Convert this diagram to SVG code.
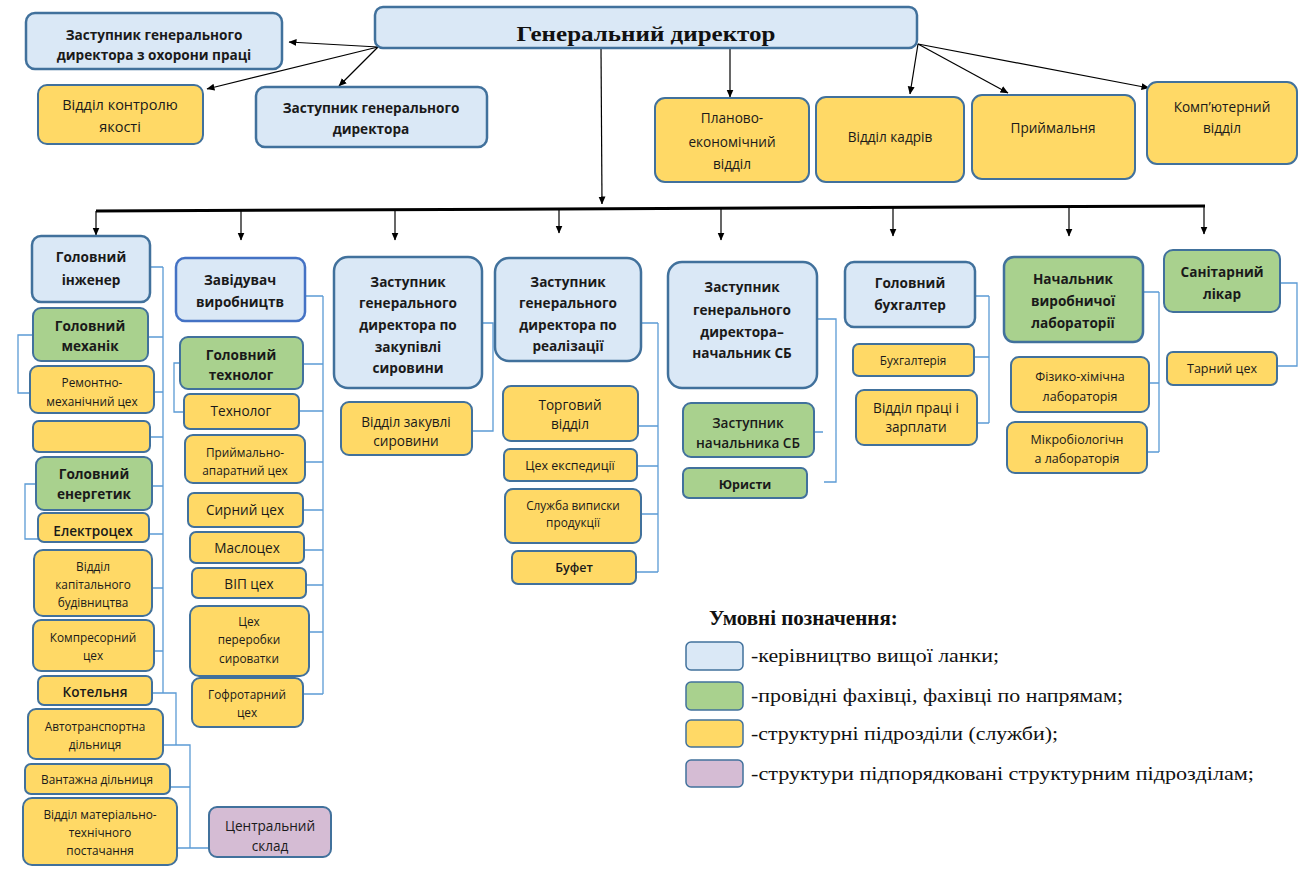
<svg xmlns="http://www.w3.org/2000/svg" width="1304" height="878" viewBox="0 0 1304 878">
<defs>
<marker id="ah" markerWidth="8" markerHeight="8" refX="7.5" refY="4" orient="auto" markerUnits="userSpaceOnUse"><path d="M0,0.5 L8,4 L0,7.5 Z" fill="#000"/></marker>
<style>
.b{fill:#dae8f6;stroke:#41719c;stroke-width:2.5}
.g{fill:#a9d18e;stroke:#41719c;stroke-width:2}
.y{fill:#ffd966;stroke:#41719c;stroke-width:2}
.p{fill:#d5bcd4;stroke:#41719c;stroke-width:2}
.t{font-family:'Open Sans','Noto Sans',sans-serif;font-size:13.6px;text-anchor:middle;fill:#1a1a1a}
.tb{font-weight:700}
.tm{font-weight:600}
.s11{font-size:11.8px}
.s12{font-size:12.5px}
.c{stroke:#5b9bd5;stroke-width:1.3;fill:none}
.a{stroke:#000;stroke-width:1.2;fill:none;marker-end:url(#ah)}
.lg{font-family:'Liberation Serif','Times New Roman',serif;font-size:19px;fill:#111}
</style>
</defs>
<rect width="1304" height="878" fill="#fff"/>

<g id="connectors">
<path class="a" d="M378,47 L289,42"/>
<path class="a" d="M378,47 L207,89"/>
<path class="a" d="M378,47 L339,86"/>
<path class="a" d="M730,48 L730,97"/>
<path class="a" d="M601,48 L602,204"/>
<path class="a" d="M918,44 L910,94"/>
<path class="a" d="M918,44 L1008,93"/>
<path class="a" d="M918,44 L1149,88"/>
<path d="M96,211 L1205,206" stroke="#000" stroke-width="3" fill="none"/>
<path class="a" d="M96,211 L96,235"/>
<path class="a" d="M241,210 L241,240"/>
<path class="a" d="M395,209 L395,240"/>
<path class="a" d="M559,209 L559,233"/>
<path class="a" d="M721,208 L721,240"/>
<path class="a" d="M893,207 L893,236"/>
<path class="a" d="M1069,207 L1069,236"/>
<path class="a" d="M1204,206 L1204,234"/>
<!-- column 1 -->
<path class="c" d="M163,267 V693 M150,267 H163 M148,337 H163 M154,392 H163 M150,437 H163 M152,486 H163 M149,534 H163 M152,588 H163 M154,651 H163 M152,693 H176 V745 M163,745 H190 V848 M170,787 H190 M177,848 H209"/>
<path class="c" d="M33,335 H18 V393 H30 M36,484 H25 V539 H38"/>
<!-- column 2 -->
<path class="c" d="M323,296 V694 M305,296 H323 M303,364 H323 M299,411 H323 M305,462 H323 M303,510 H323 M304,550 H323 M306,585 H323 M309,632 H323 M303,694 H323"/>
<path class="c" d="M180,363 H174 V412 H184"/>
<!-- column 3 -->
<path class="c" d="M482,323 H493 V431 H472"/>
<!-- column 4 -->
<path class="c" d="M658,323 V572 M641,323 H658 M638,426 H658 M637,466 H658 M641,514 H658 M636,572 H658"/>
<!-- column 5 -->
<path class="c" d="M817,319 H836 V482 H824 M814,432 H823"/>
<!-- column 6 -->
<path class="c" d="M989,296 V423 M975,296 H989 M974,357 H989 M977,423 H989"/>
<!-- column 7 -->
<path class="c" d="M1159,292 V452 M1143,292 H1159 M1149,383 H1159 M1147,452 H1159"/>
<!-- column 8 -->
<path class="c" d="M1280,283 H1297 V366 H1277"/>
</g>

<g id="gd"><rect class="b" x="375" y="7" width="542" height="41" rx="8"/><text x="646" y="41" font-family="'Liberation Serif','Times New Roman',serif" font-weight="700" font-size="20" text-anchor="middle" textLength="259" lengthAdjust="spacingAndGlyphs" fill="#111">Генеральний директор</text></g>
<g id="ohor"><rect class="b" x="26" y="13" width="256" height="56" rx="9"/><text class="t tb"><tspan x="154" y="40">Заступник генерального</tspan><tspan x="154" y="60">директора з охорони праці</tspan></text></g>
<g id="kontrol"><rect class="y" x="38" y="85" width="165" height="59" rx="9"/><text class="t" style="font-size:14.5px"><tspan x="120" y="110">Відділ контролю</tspan><tspan x="120" y="132">якості</tspan></text></g>
<g id="zgd"><rect class="b" x="256" y="87" width="231" height="60" rx="9"/><text class="t tb"><tspan x="371" y="113">Заступник генерального</tspan><tspan x="371" y="134">директора</tspan></text></g>
<g id="plan"><rect class="y" x="655" y="98" width="154" height="84" rx="10"/><text class="t"><tspan x="732" y="123">Планово-</tspan><tspan x="732" y="147">економічний</tspan><tspan x="732" y="169">відділ</tspan></text></g>
<g id="kadry"><rect class="y" x="816" y="97" width="148" height="85" rx="10"/><text class="t" x="890" y="142">Відділ кадрів</text></g>
<g id="pryim"><rect class="y" x="972" y="95" width="163" height="84" rx="10"/><text class="t" x="1053" y="133">Приймальня</text></g>
<g id="komp"><rect class="y" x="1147" y="82" width="150" height="82" rx="10"/><text class="t"><tspan x="1222" y="112">Комп’ютерний</tspan><tspan x="1222" y="133">відділ</tspan></text></g>

<!-- column 1 -->
<g id="gi"><rect class="b" x="32" y="236" width="118" height="66" rx="9"/><text class="t tb"><tspan x="91" y="262">Головний</tspan><tspan x="91" y="285">інженер</tspan></text></g>
<g id="gm"><rect class="g" x="33" y="308" width="115" height="53" rx="8"/><text class="t tb"><tspan x="90" y="331">Головний</tspan><tspan x="90" y="351">механік</tspan></text></g>
<g id="rm"><rect class="y" x="30" y="366" width="124" height="47" rx="8"/><text class="t s11"><tspan x="92" y="387">Ремонтно-</tspan><tspan x="92" y="406">механічний цех</tspan></text></g>
<g id="empty"><rect class="y" x="33" y="421" width="117" height="31" rx="6"/></g>
<g id="ge"><rect class="g" x="36" y="457" width="116" height="53" rx="8"/><text class="t tb"><tspan x="94" y="479">Головний</tspan><tspan x="94" y="499">енергетик</tspan></text></g>
<g id="el"><rect class="y" x="38" y="513" width="111" height="29" rx="6"/><text class="t tm" x="93" y="536">Електроцех</text></g>
<g id="kb"><rect class="y" x="34" y="550" width="118" height="66" rx="9"/><text class="t s11"><tspan x="93" y="571">Відділ</tspan><tspan x="93" y="589">капітального</tspan><tspan x="93" y="607">будівництва</tspan></text></g>
<g id="ks"><rect class="y" x="33" y="620" width="121" height="51" rx="8"/><text class="t s11"><tspan x="93" y="642">Компресорний</tspan><tspan x="93" y="660">цех</tspan></text></g>
<g id="kt"><rect class="y" x="38" y="676" width="114" height="29" rx="6"/><text class="t tm" x="95" y="697">Котельня</text></g>
<g id="at"><rect class="y" x="28" y="709" width="135" height="50" rx="8"/><text class="t s11"><tspan x="95" y="731">Автотранспортна</tspan><tspan x="95" y="749">дільниця</tspan></text></g>
<g id="vd"><rect class="y" x="25" y="764" width="145" height="30" rx="6"/><text class="t s11" x="97" y="784">Вантажна дільниця</text></g>
<g id="mt"><rect class="y" x="23" y="798" width="154" height="67" rx="9"/><text class="t s11"><tspan x="100" y="819">Відділ матеріально-</tspan><tspan x="100" y="837">технічного</tspan><tspan x="100" y="855">постачання</tspan></text></g>
<g id="cs"><rect class="p" x="209" y="807" width="122" height="50" rx="8"/><text class="t"><tspan x="270" y="831">Центральний</tspan><tspan x="270" y="851">склад</tspan></text></g>

<!-- column 2 -->
<g id="zv"><rect class="b" style="stroke:#4472c4" x="176" y="258" width="129" height="63" rx="9"/><text class="t tb"><tspan x="240" y="285">Завідувач</tspan><tspan x="240" y="307">виробництв</tspan></text></g>
<g id="gt"><rect class="g" x="180" y="337" width="123" height="52" rx="8"/><text class="t tb"><tspan x="241" y="360">Головний</tspan><tspan x="241" y="380">технолог</tspan></text></g>
<g id="tl"><rect class="y" x="184" y="394" width="115" height="35" rx="6"/><text class="t" x="241" y="416">Технолог</text></g>
<g id="pa"><rect class="y" x="185" y="435" width="120" height="48" rx="8"/><text class="t s11"><tspan x="245" y="457">Приймально-</tspan><tspan x="245" y="475">апаратний цех</tspan></text></g>
<g id="sc"><rect class="y" x="188" y="493" width="115" height="34" rx="6"/><text class="t" x="245" y="515">Сирний цех</text></g>
<g id="ms"><rect class="y" x="190" y="532" width="114" height="31" rx="6"/><text class="t" x="247" y="553">Маслоцех</text></g>
<g id="vip"><rect class="y" x="192" y="568" width="114" height="30" rx="6"/><text class="t" x="249" y="589">ВІП цех</text></g>
<g id="ps"><rect class="y" x="190" y="606" width="119" height="70" rx="9"/><text class="t s11"><tspan x="249" y="626">Цех</tspan><tspan x="249" y="644">переробки</tspan><tspan x="249" y="663">сироватки</tspan></text></g>
<g id="gf"><rect class="y" x="192" y="678" width="111" height="49" rx="8"/><text class="t s11"><tspan x="247" y="699">Гофротарний</tspan><tspan x="247" y="717">цех</tspan></text></g>

<!-- column 3 -->
<g id="zz"><rect class="b" x="334" y="257" width="148" height="131" rx="14"/><text class="t tb"><tspan x="408" y="287">Заступник</tspan><tspan x="408" y="308">генерального</tspan><tspan x="408" y="330">директора по</tspan><tspan x="408" y="352">закупівлі</tspan><tspan x="408" y="373">сировини</tspan></text></g>
<g id="vz"><rect class="y" x="341" y="402" width="131" height="53" rx="8"/><text class="t"><tspan x="406" y="427">Відділ закувлі</tspan><tspan x="406" y="446">сировини</tspan></text></g>

<!-- column 4 -->
<g id="zr"><rect class="b" x="495" y="258" width="146" height="103" rx="14"/><text class="t tb"><tspan x="568" y="287">Заступник</tspan><tspan x="568" y="308">генерального</tspan><tspan x="568" y="330">директора по</tspan><tspan x="568" y="351">реалізації</tspan></text></g>
<g id="tv"><rect class="y" x="503" y="386" width="135" height="55" rx="8"/><text class="t"><tspan x="570" y="410">Торговий</tspan><tspan x="570" y="429">відділ</tspan></text></g>
<g id="ce"><rect class="y" x="504" y="449" width="133" height="32" rx="6"/><text class="t s12" x="570" y="470">Цех експедиції</text></g>
<g id="sv"><rect class="y" x="505" y="489" width="136" height="54" rx="8"/><text class="t s11"><tspan x="573" y="510">Служба виписки</tspan><tspan x="573" y="527">продукції</tspan></text></g>
<g id="bf"><rect class="y" x="512" y="551" width="124" height="33" rx="6"/><text class="t s12 tm" x="574" y="572">Буфет</text></g>

<!-- column 5 -->
<g id="zsb"><rect class="b" x="668" y="262" width="149" height="126" rx="14"/><text class="t tb"><tspan x="742" y="292">Заступник</tspan><tspan x="742" y="315">генерального</tspan><tspan x="742" y="337">директора–</tspan><tspan x="742" y="358">начальник СБ</tspan></text></g>
<g id="zns"><rect class="g" x="683" y="403" width="131" height="54" rx="8"/><text class="t tm"><tspan x="748" y="428">Заступник</tspan><tspan x="748" y="448">начальника СБ</tspan></text></g>
<g id="yur"><rect class="g" x="683" y="468" width="124" height="30" rx="6"/><text class="t s12 tb" x="745" y="489">Юристи</text></g>

<!-- column 6 -->
<g id="gb"><rect class="b" x="845" y="262" width="130" height="65" rx="9"/><text class="t tb"><tspan x="910" y="288">Головний</tspan><tspan x="910" y="310">бухгалтер</tspan></text></g>
<g id="bh"><rect class="y" x="853" y="344" width="121" height="32" rx="6"/><text class="t s11" x="913" y="365">Бухгалтерія</text></g>
<g id="vp"><rect class="y" x="856" y="390" width="121" height="55" rx="8"/><text class="t"><tspan x="916" y="413">Відділ праці і</tspan><tspan x="916" y="432">зарплати</tspan></text></g>

<!-- column 7 -->
<g id="nl"><rect class="g" style="stroke-width:2.5" x="1004" y="257" width="139" height="85" rx="10"/><text class="t tb"><tspan x="1073" y="284">Начальник</tspan><tspan x="1073" y="306">виробничої</tspan><tspan x="1073" y="328">лабораторії</tspan></text></g>
<g id="fh"><rect class="y" x="1011" y="357" width="138" height="55" rx="8"/><text class="t s12"><tspan x="1080" y="381">Фізико-хімічна</tspan><tspan x="1080" y="401">лабораторія</tspan></text></g>
<g id="mb"><rect class="y" x="1007" y="422" width="140" height="51" rx="8"/><text class="t s12"><tspan x="1077" y="444">Мікробіологічн</tspan><tspan x="1077" y="463">а лабораторія</tspan></text></g>

<!-- column 8 -->
<g id="sl"><rect class="g" x="1164" y="250" width="116" height="62" rx="9"/><text class="t tb"><tspan x="1222" y="277">Санітарний</tspan><tspan x="1222" y="299">лікар</tspan></text></g>
<g id="tc"><rect class="y" x="1167" y="352" width="110" height="33" rx="6"/><text class="t s12" x="1222" y="373">Тарний цех</text></g>

<!-- legend -->
<g id="legend">
<text x="709" y="625" font-family="'Liberation Serif','Times New Roman',serif" font-weight="700" font-size="21" fill="#111">Умовні позначення:</text>
<rect class="b" style="stroke-width:1.5" x="686" y="642" width="57" height="28" rx="5"/>
<rect class="g" style="stroke-width:1.5" x="686" y="682" width="57" height="28" rx="5"/>
<rect class="y" style="stroke-width:1.5" x="686" y="720" width="57" height="27" rx="5"/>
<rect class="p" style="stroke-width:1.5" x="686" y="760" width="57" height="27" rx="5"/>
<text class="lg" x="751" y="662" textLength="248" lengthAdjust="spacingAndGlyphs">-керівництво вищої ланки;</text>
<text class="lg" x="751" y="702" textLength="372" lengthAdjust="spacingAndGlyphs">-провідні фахівці, фахівці по напрямам;</text>
<text class="lg" x="751" y="740" textLength="307" lengthAdjust="spacingAndGlyphs">-структурні підрозділи (служби);</text>
<text class="lg" x="751" y="780" textLength="503" lengthAdjust="spacingAndGlyphs">-структури підпорядковані структурним підрозділам;</text>
</g>
</svg>
